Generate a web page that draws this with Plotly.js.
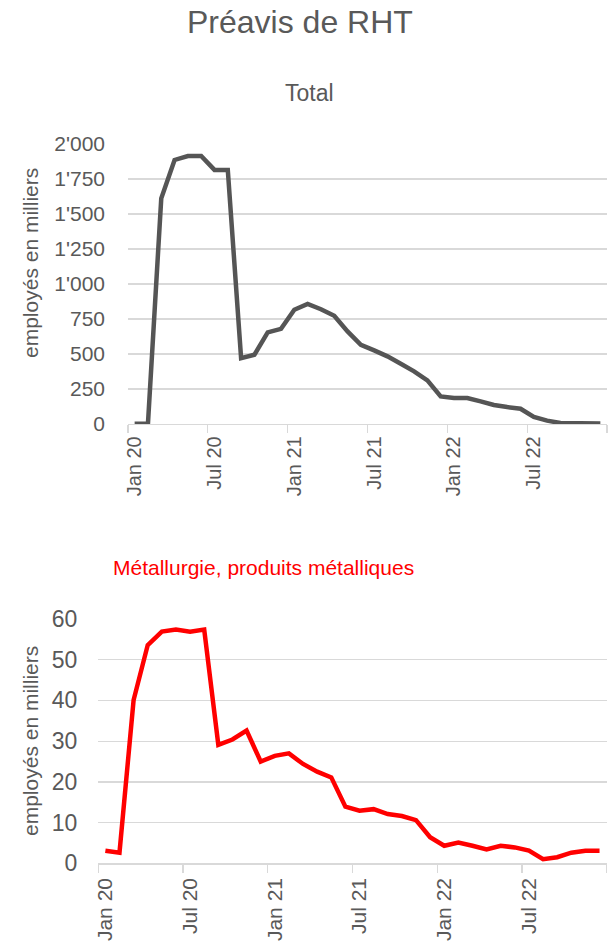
<!DOCTYPE html>
<html>
<head>
<meta charset="utf-8">
<script src="https://cdn.plot.ly/plotly-3.0.1.min.js"></script>
<style>
html,body{margin:0;padding:0;background:#fff;}
#chart{width:610px;height:947px;}
</style>
</head>
<body>
<div id="chart"></div>
<script>
// Data
const months = ['Jan 20','Feb 20','Mar 20','Apr 20','May 20','Jun 20','Jul 20','Aug 20','Sep 20','Oct 20','Nov 20','Dec 20',
                'Jan 21','Feb 21','Mar 21','Apr 21','May 21','Jun 21','Jul 21','Aug 21','Sep 21','Oct 21','Nov 21','Dec 21',
                'Jan 22','Feb 22','Mar 22','Apr 22','May 22','Jun 22','Jul 22','Aug 22','Sep 22','Oct 22','Nov 22','Dec 22'];
const totalValues = [2, 3, 1612, 1886, 1914, 1914, 1815, 1815, 471, 495, 654, 680,
                     816, 858, 820, 773, 661, 566, 526, 483, 430, 376, 312, 197,
                     185, 185, 162, 136, 121, 109, 50, 24, 7, 5, 5, 4];
const metalValues = [3.1, 2.6, 40.1, 53.6, 56.9, 57.4, 56.9, 57.4, 29.1, 30.4, 32.6, 25.0,
                     26.4, 27.0, 24.4, 22.5, 21.1, 13.9, 12.9, 13.3, 12.1, 11.6, 10.6, 6.4,
                     4.3, 5.1, 4.3, 3.4, 4.3, 3.9, 3.1, 1.0, 1.5, 2.6, 3.1, 3.1];
const totalTicks = [0, 250, 500, 750, 1000, 1250, 1500, 1750, 2000];
const totalTickText = ['0', '250', '500', '750', "1'000", "1'250", "1'500", "1'750", "2'000"];
const metalTicks = [0, 10, 20, 30, 40, 50, 60];

const mainTitle = 'Préavis de RHT';
const topTitle = 'Total';
const bottomTitle = 'Métallurgie, produits métalliques';
const yTitle = 'employés en milliers';

const W = 610, H = 947;
const FONT = 'Liberation Sans, Arial, sans-serif';
const GREY = '#595959';
const GRID = '#D9D9D9';

function px(x){ return x / W; }
function py(y){ return 1 - y / H; }

const traces = [
  {x: months, y: totalValues, type: 'scatter', mode: 'lines', xaxis: 'x', yaxis: 'y',
   line: {color: '#555555', width: 4.5}, hoverinfo: 'skip'},
  {x: months, y: metalValues, type: 'scatter', mode: 'lines', xaxis: 'x2', yaxis: 'y2',
   line: {color: '#FF0000', width: 4.5}, hoverinfo: 'skip'}
];

function xAxis(domain, anchor, size, standoff){
  return {
    type: 'category', domain: domain, anchor: anchor,
    range: [-0.5, 35.5], fixedrange: true,
    tickmode: 'linear', tick0: 0, dtick: 6, tickson: 'boundaries',
    ticks: 'outside', ticklen: 8, tickcolor: GRID, tickwidth: 1.3,
    showline: true, linecolor: GRID, linewidth: 1.3,
    showgrid: false, zeroline: false,
    tickangle: -90, ticklabelstandoff: standoff,
    tickfont: {family: FONT, size: size, color: GREY}
  };
}

function yAxis(domain, anchor, range, tickvals, ticktext, size, standoff){
  const a = {
    domain: domain, anchor: anchor, range: range, fixedrange: true,
    tickmode: 'array', tickvals: tickvals,
    showgrid: true, gridcolor: GRID, gridwidth: 1.3,
    zeroline: false, showline: false, ticks: '',
    ticklabelstandoff: standoff,
    tickfont: {family: FONT, size: size, color: GREY}
  };
  if (ticktext) a.ticktext = ticktext;
  return a;
}

const layout = {
  width: W, height: H,
  margin: {l: 0, r: 0, t: 0, b: 0},
  paper_bgcolor: '#fff', plot_bgcolor: '#fff',
  showlegend: false,
  font: {family: FONT, color: GREY},
  xaxis: xAxis([px(128), px(607)], 'y', 20, 3),
  yaxis: yAxis([py(424), py(144)], 'x', [0, 2000], totalTicks, totalTickText, 21, 22),
  xaxis2: xAxis([px(98.3), px(606.6)], 'y2', 21, 5),
  yaxis2: yAxis([py(863.3), py(619)], 'x2', [0, 60], metalTicks, null, 23, 20),
  annotations: [
    {text: mainTitle, xref: 'paper', yref: 'paper', x: px(300), y: py(22), xanchor: 'center', yanchor: 'middle',
     showarrow: false, font: {family: FONT, size: 32, color: GREY}},
    {text: topTitle, xref: 'paper', yref: 'paper', x: px(309.5), y: py(93), xanchor: 'center', yanchor: 'middle',
     showarrow: false, font: {family: FONT, size: 23, color: GREY}},
    {text: bottomTitle, xref: 'paper', yref: 'paper', x: px(263.5), y: py(567), xanchor: 'center', yanchor: 'middle',
     showarrow: false, font: {family: FONT, size: 21, color: '#FF0000'}},
    {text: yTitle, xref: 'paper', yref: 'paper', x: px(30), y: py(263), xanchor: 'center', yanchor: 'middle',
     textangle: -90, showarrow: false, font: {family: FONT, size: 21, color: GREY}},
    {text: yTitle, xref: 'paper', yref: 'paper', x: px(30), y: py(741), xanchor: 'center', yanchor: 'middle',
     textangle: -90, showarrow: false, font: {family: FONT, size: 21, color: GREY}}
  ]
};

Plotly.newPlot('chart', traces, layout, {staticPlot: true, displayModeBar: false});
</script>
</body>
</html>
